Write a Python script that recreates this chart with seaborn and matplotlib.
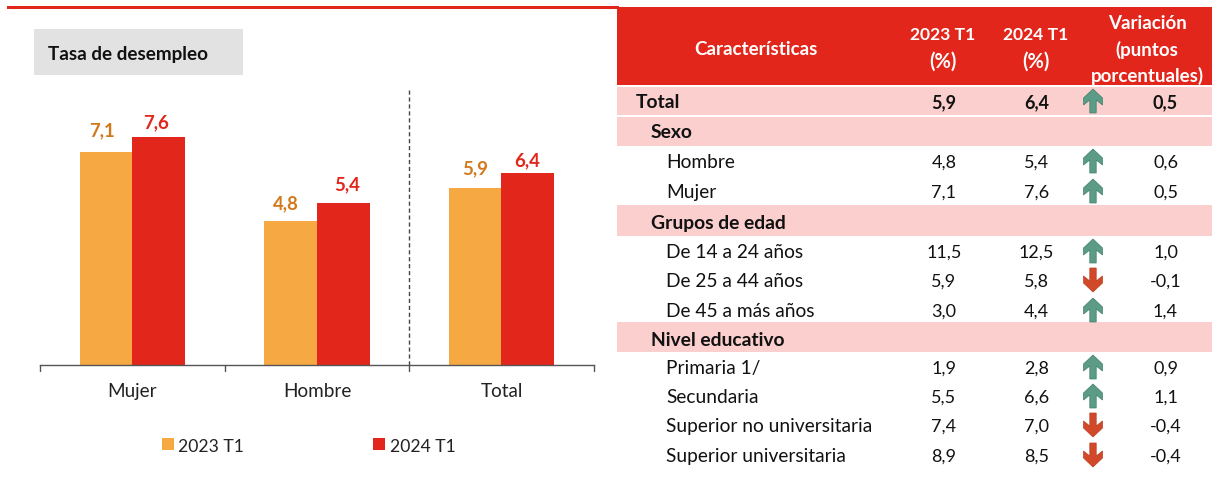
#!/usr/bin/python3

import pandas as pd
import seaborn as sns
import matplotlib.pyplot as plt
from matplotlib.patches import Polygon, Rectangle

# Datos del grafico de barras
categorias = ['Mujer', 'Hombre', 'Total']
valores_2023 = [7.1, 4.8, 5.9]
valores_2024 = [7.6, 5.4, 6.4]
periodos = ['2023 T1', '2024 T1']

# Datos de la tabla
filas = ['Total', 'Sexo', 'Hombre', 'Mujer', 'Grupos de edad', 'De 14 a 24 años',
         'De 25 a 44 años', 'De 45 a más años', 'Nivel educativo', 'Primaria 1/',
         'Secundaria', 'Superior no universitaria', 'Superior universitaria']
tabla_2023 = [5.9, None, 4.8, 7.1, None, 11.5, 5.9, 3.0, None, 1.9, 5.5, 7.4, 8.9]
tabla_2024 = [6.4, None, 5.4, 7.6, None, 12.5, 5.8, 4.4, None, 2.8, 6.6, 7.0, 8.5]
variacion = [0.5, None, 0.6, 0.5, None, 1.0, -0.1, 1.4, None, 0.9, 1.1, -0.4, -0.4]

# Colores y posiciones
NARANJA = '#F6A943'
ROJO = '#E2261B'
NARANJA_TXT = '#D2791C'
ROSA = '#FACFCE'
VERDE = '#5C9C87'
ROJO_FLECHA = '#D2492A'
TINTA = '#111111'
W, H = 1212, 488
fila_y = [101, 131, 161, 191, 222, 251, 280, 310, 339, 367, 396, 425, 455]
sangria = [636, 651, 666.5, 666.5, 651, 666.5, 666.5, 666.5, 651, 666.5, 666.5, 666.5, 666.5]
# bandas rosadas (arriba, abajo) en px
bandas = [(87, 115), (117, 146), (205, 236), (322, 352)]
# ajuste de las etiquetas sobre cada barra en px, (dx, dy)
ajuste_2023 = [(-4, 22), (-5, 18), (0, 20)]
ajuste_2024 = [(-3, 15), (4, 19), (-1, 13)]
DY = 1.5  # Lato queda algo alto con va='center'

sns.set_theme(style='white')
plt.rcParams['font.family'] = ['Lato', 'DejaVu Sans']

fig = plt.figure(figsize=(W / 100, H / 100), dpi=100)
fondo = fig.add_axes([0, 0, 1, 1])
fondo.set_xlim(0, W)
fondo.set_ylim(H, 0)
fondo.axis('off')

# Grafico de barras
ax = fig.add_axes([40.2 / W, 1 - 365 / H, (593.7 - 40.2) / W, 275 / H])
ax.patch.set_alpha(0)
df = pd.DataFrame({
    'categoria': categorias * 2,
    'valor': valores_2023 + valores_2024,
    'periodo': [periodos[0]] * 3 + [periodos[1]] * 3,
})
sns.barplot(data=df, x='categoria', y='valor', hue='periodo', order=categorias,
            palette=[NARANJA, ROJO], width=0.57, gap=0, saturation=1, legend=False,
            linewidth=0, edgecolor='none', ax=ax)
ax.set_xlim(-0.5, 2.5)
ax.set_ylim(0, 275 / 30)
ax.set_xlabel('')
ax.set_ylabel('')
ax.set_yticks([])
ax.set_xticks([0, 1, 2], categorias)
ax.tick_params(axis='x', length=0, pad=13, labelsize=13.6, labelcolor='#222222')
for s in ['top', 'left', 'right']:
    ax.spines[s].set_visible(False)
ax.spines['bottom'].set_color('#555555')
ax.spines['bottom'].set_linewidth(1)
for x in [-0.5, 0.5, 1.5, 2.5]:
    ax.plot([x, x], [0, -6 / 30], color='#555555', lw=1, clip_on=False)
ax.axvline(1.5, color='#444444', lw=1, ls=(0, (3, 2)))

for cont, ajustes, color in zip(ax.containers, [ajuste_2023, ajuste_2024], [NARANJA_TXT, ROJO]):
    for barra, (dx, dy) in zip(cont, ajustes):
        ax.annotate(f'{barra.get_height():.1f}'.replace('.', ','),
                    (barra.get_x() + barra.get_width() / 2, barra.get_height()),
                    xytext=(dx * 0.72, (dy - DY + 0.5) * 0.72), textcoords='offset points',
                    ha='center', va='center', color=color, fontsize=13.4, fontweight='bold')

# Recuadro del titulo
fondo.add_patch(Rectangle((34, 29), 209, 46, color='#E2E2E2', lw=0))
fondo.text(48, 53 + DY, 'Tasa de desempleo', fontsize=13.6, fontweight='bold', va='center', color=TINTA)

# Leyenda
for x_caja, x_txt, color, etiqueta in zip([162, 373], [178.5, 390], [NARANJA, ROJO], periodos):
    fondo.add_patch(Rectangle((x_caja, 438), 12, 12, color=color, lw=0))
    fondo.text(x_txt, 445 + DY, etiqueta, fontsize=12.6, va='center', color='#222222')

# Linea roja superior y encabezado
fondo.add_patch(Rectangle((7, 6), 612, 3, color=ROJO, lw=0))
fondo.add_patch(Rectangle((617, 7), W - 617, 78, color=ROJO, lw=0))
for x, y, txt, tam in [(756, 48, 'Características', 13.5), (943, 34, '2023 T1', 12.6),
                       (943, 60, '(%)', 14.5), (1036, 34, '2024 T1', 12.6), (1036, 60, '(%)', 14.5),
                       (1147, 22, 'Variación', 13.5), (1147, 48, '(puntos', 13.5),
                       (1147, 74, 'porcentuales)', 13.5)]:
    fondo.text(x, y + DY, txt, color='white', fontsize=tam, fontweight='bold', ha='center', va='center')


def flecha(x, y, sube):
    # flecha de 19 px de ancho y 24 de alto
    forma = [(0, -12), (9.5, -3), (9.5, 4), (3.2, -1), (3.2, 12), (-3.2, 12), (-3.2, -1), (-9.5, 4), (-9.5, -3)]
    signo = 1 if sube else -1
    pts = [(x + a, y + signo * b) for a, b in forma]
    fondo.add_patch(Polygon(pts, closed=True, facecolor=VERDE if sube else ROJO_FLECHA,
                            edgecolor='#3F7F6B' if sube else '#B93E22', lw=0.5))


# Bandas rosadas
for arriba, abajo in bandas:
    fondo.add_patch(Rectangle((617, arriba), W - 617, abajo - arriba, color=ROSA, lw=0))

# Filas de la tabla
for i, nombre in enumerate(filas):
    y = fila_y[i]
    negrita = tabla_2023[i] is None or i == 0
    peso = 'bold' if negrita else 'normal'
    fondo.text(sangria[i], y + DY, nombre, fontsize=13.9 if negrita else 13.8, fontweight=peso,
               va='center', color=TINTA)
    if tabla_2023[i] is None:
        continue
    for x, v in [(944, tabla_2023[i]), (1036.5, tabla_2024[i]), (1165.5, variacion[i])]:
        fondo.text(x, y + DY, f'{v:.1f}'.replace('.', ','), fontsize=13, fontweight=peso,
                   ha='center', va='center', color=TINTA)
    flecha(1093, y, variacion[i] > 0)

fig.savefig('out.png', dpi=100)
